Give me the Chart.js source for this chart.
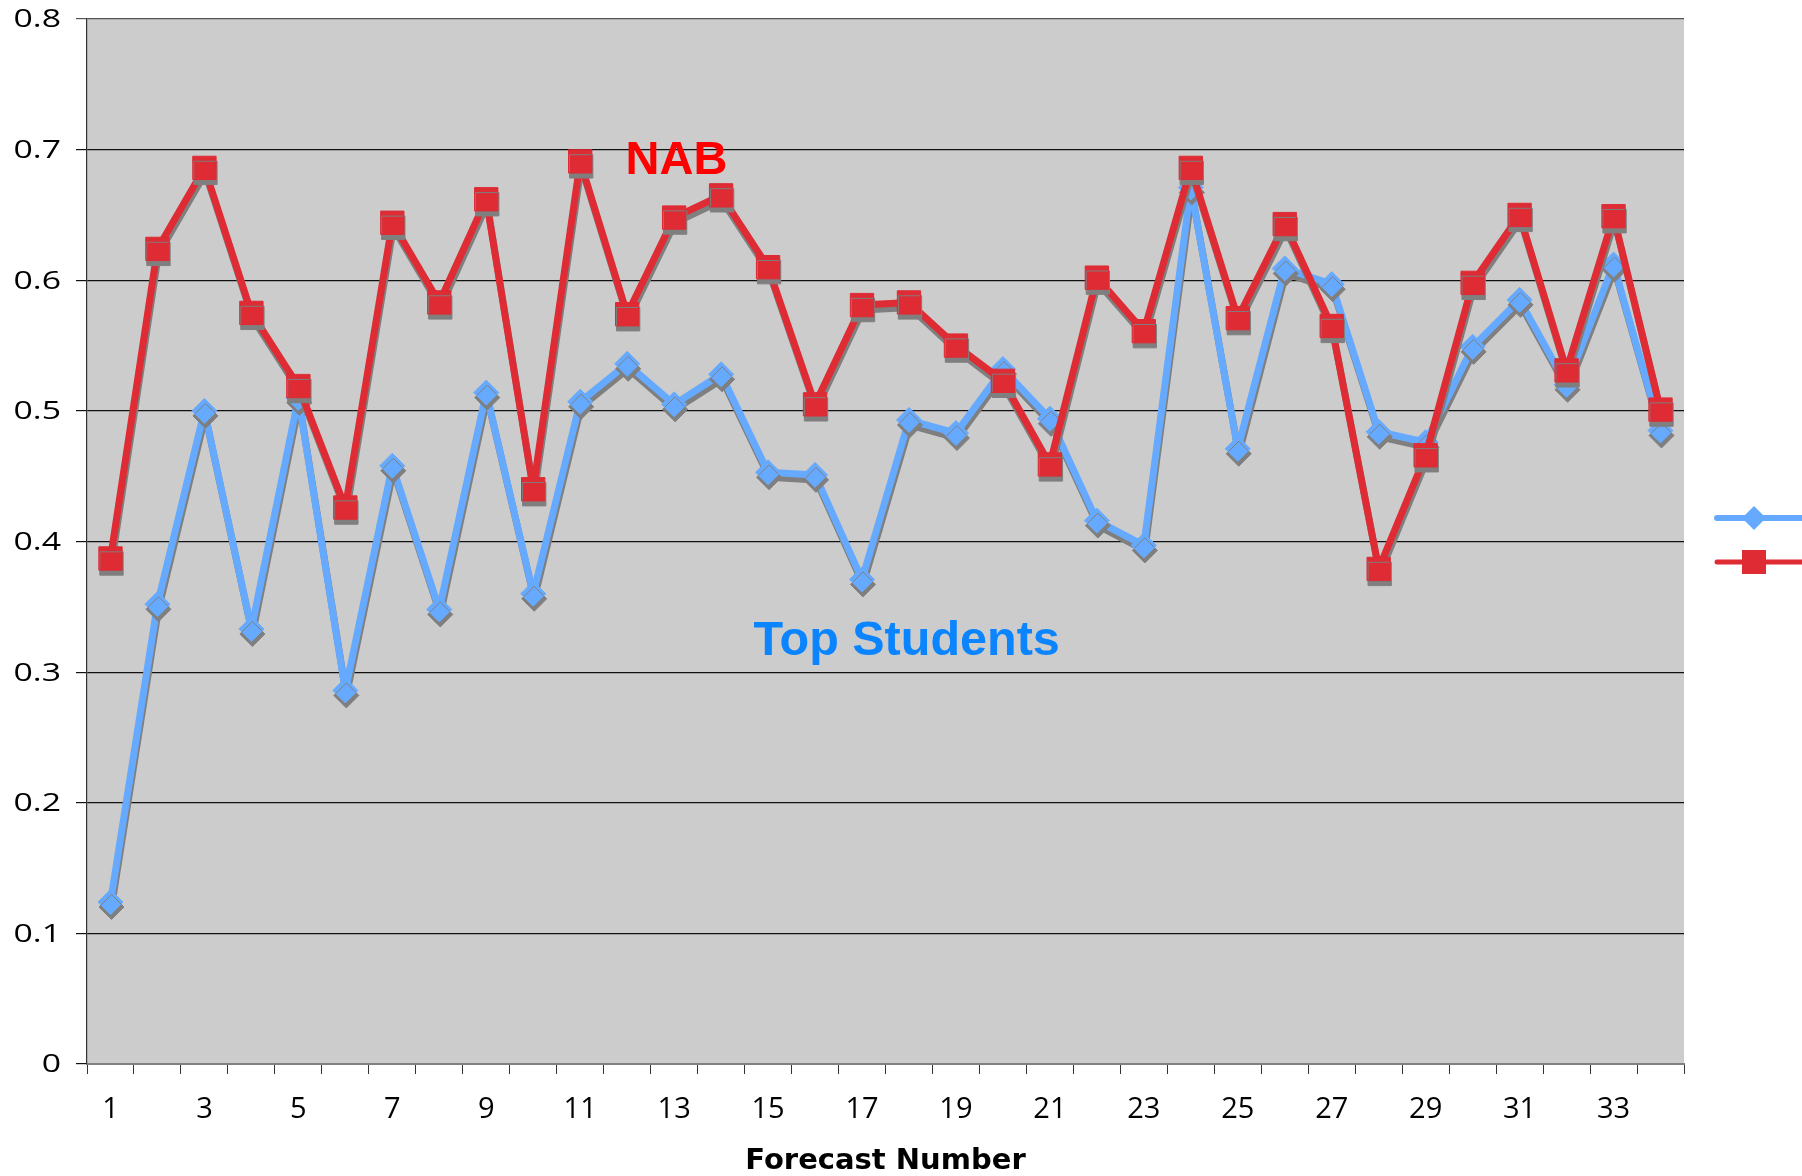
<!DOCTYPE html>
<html>
<head>
<meta charset="utf-8">
<script src="https://cdn.jsdelivr.net/npm/chart.js@4.4.1/dist/chart.umd.min.js"></script>
<style>
  html, body { margin: 0; padding: 0; background: #ffffff; }
  #wrap { width: 1802px; height: 1176px; }
</style>
</head>
<body>
<div id="wrap"><canvas id="mycanvas" width="1802" height="1176"></canvas></div>
<script>
var forecastNumbers = ['1','2','3','4','5','6','7','8','9','10','11','12','13','14','15','16','17',
                       '18','19','20','21','22','23','24','25','26','27','28','29','30','31','32','33','34'];
var shownTicks = ['1','3','5','7','9','11','13','15','17','19','21','23','25','27','29','31','33'];
var yTicks = [0, 0.1, 0.2, 0.3, 0.4, 0.5, 0.6, 0.7, 0.8];

var topStudents = [0.124, 0.352, 0.500, 0.333, 0.510, 0.286, 0.458, 0.348, 0.514, 0.360, 0.507, 0.536,
                   0.505, 0.528, 0.453, 0.451, 0.371, 0.493, 0.483, 0.532, 0.494, 0.416, 0.397, 0.671,
                   0.471, 0.609, 0.597, 0.484, 0.476, 0.549, 0.585, 0.520, 0.612, 0.485];
var nab = [0.387, 0.624, 0.686, 0.575, 0.519, 0.426, 0.644, 0.583, 0.662, 0.440, 0.691, 0.574,
           0.648, 0.665, 0.610, 0.505, 0.581, 0.583, 0.550, 0.523, 0.459, 0.602, 0.561, 0.686,
           0.571, 0.643, 0.565, 0.379, 0.466, 0.598, 0.650, 0.531, 0.649, 0.501];

var BLUE = '#66aaff';
var RED = '#de2b34';

// grey plot area behind the grid
var plotBackground = {
	id: 'plotBackground',
	beforeDraw: function(chart){
		var a = chart.chartArea, ctx = chart.ctx;
		ctx.save();
		ctx.fillStyle = '#cccccc';
		ctx.fillRect(a.left, a.top, a.right - a.left, a.bottom - a.top);
		ctx.restore();
	}
};

// flat grey shadow under lines and markers
var dropShadow = {
	id: 'dropShadow',
	beforeDatasetsDraw: function(chart){
		var ctx = chart.ctx;
		ctx.save();
		ctx.shadowColor = '#7f7f7f';
		ctx.shadowOffsetX = 1;
		ctx.shadowOffsetY = 5;
		ctx.shadowBlur = 0;
	},
	afterDatasetsDraw: function(chart){
		chart.ctx.restore();
	}
};

// value labels on the y axis, drawn a bit wider than the font
var yLabels = {
	id: 'yLabels',
	afterDraw: function(chart){
		var ys = chart.scales.y, ctx = chart.ctx;
		ctx.save();
		ctx.font = '26px "Open Sans", sans-serif';
		ctx.fillStyle = '#000000';
		ctx.textAlign = 'right';
		ctx.textBaseline = 'middle';
		yTicks.forEach(function(v){
			ctx.save();
			ctx.translate(61, ys.getPixelForValue(v) + 1);
			ctx.scale(1.3, 1);
			ctx.fillText(String(v), 0, 0);
			ctx.restore();
		});
		ctx.restore();
	}
};

// series names written on the plot + legend keys at the right edge
var seriesNotes = {
	id: 'seriesNotes',
	afterDraw: function(chart){
		var ctx = chart.ctx;
		var xs = chart.scales.x, ys = chart.scales.y;
		ctx.save();
		ctx.font = 'bold 47px "Liberation Sans", Arial, sans-serif';
		ctx.textAlign = 'center';
		ctx.textBaseline = 'alphabetic';
		ctx.fillStyle = '#ff0000';
		ctx.fillText('NAB', xs.getPixelForValue(12.05), ys.getPixelForValue(0.681));
		ctx.font = 'bold 48.5px "Liberation Sans", Arial, sans-serif';
		ctx.fillStyle = '#0a84ff';
		ctx.fillText('Top Students', xs.getPixelForValue(16.95), ys.getPixelForValue(0.313));

		// legend keys
		ctx.lineCap = 'round';
		ctx.lineWidth = 6;
		ctx.strokeStyle = BLUE;
		ctx.beginPath(); ctx.moveTo(1717, 518); ctx.lineTo(1810, 518); ctx.stroke();
		ctx.fillStyle = BLUE;
		ctx.beginPath();
		ctx.moveTo(1754 - 12, 518); ctx.lineTo(1754, 518 - 12);
		ctx.lineTo(1754 + 12, 518); ctx.lineTo(1754, 518 + 12);
		ctx.closePath(); ctx.fill();
		ctx.lineWidth = 5;
		ctx.strokeStyle = RED;
		ctx.beginPath(); ctx.moveTo(1717, 562); ctx.lineTo(1810, 562); ctx.stroke();
		ctx.fillStyle = RED;
		ctx.fillRect(1754 - 12, 562 - 12, 24, 24);
		ctx.restore();
	}
};

var chartdata = {
	labels : forecastNumbers,
	datasets : [
		{
			label : 'Top Students',
			data : topStudents,
			borderColor : BLUE,
			backgroundColor : BLUE,
			borderWidth : 7,
			borderJoinStyle : 'round',
			pointStyle : 'rectRot',
			pointRadius : 12.5,
			pointBorderWidth : 1,
			pointBorderColor : BLUE,
			pointBackgroundColor : BLUE,
			order : 1
		},
		{
			label : 'NAB',
			data : nab,
			borderColor : RED,
			backgroundColor : RED,
			borderWidth : 7,
			borderJoinStyle : 'round',
			pointStyle : 'rect',
			pointRadius : 16.5,
			pointBorderWidth : 1,
			pointBorderColor : RED,
			pointBackgroundColor : RED,
			order : 0
		}
	]
};

var ctx = document.getElementById('mycanvas');
var lineGraph = new Chart(ctx, {
	type : 'line',
	data : chartdata,
	plugins : [plotBackground, dropShadow, yLabels, seriesNotes],
	options : {
		responsive : false,
		animation : false,
		layout : { padding : { top : 19, right : 118, left : 0, bottom : 0 } },
		plugins : {
			legend : { display : false },
			tooltip : { enabled : false }
		},
		scales : {
			x : {
				offset : true,
				afterFit : function(scale){ scale.height = 112; },
				grid : {
					offset : true,
					drawOnChartArea : false,
					drawTicks : true,
					tickLength : 10,
					color : '#333333'
				},
				border : { color : '#808080', width : 2 },
				ticks : {
					autoSkip : false,
					maxRotation : 0,
					padding : 18,
					color : '#000000',
					font : { family : '"Open Sans", sans-serif', size : 29 },
					callback : function(val, i){
						var lab = forecastNumbers[i];
						return shownTicks.indexOf(lab) >= 0 ? lab : '';
					}
				},
				title : {
					display : true,
					text : 'Forecast Number',
					color : '#000000',
					font : { family : '"DejaVu Sans", sans-serif', size : 29, weight : 'bold' },
					padding : { top : 0, bottom : -3 }
				}
			},
			y : {
				min : 0,
				max : 0.8,
				afterFit : function(scale){ scale.width = 87; },
				grid : {
					tickLength : 11,
					lineWidth : 1.2,
					color : function(c){ return c.tick && c.tick.value >= 0.79 ? '#555555' : '#111111'; }
				},
				border : { color : '#333333', width : 1.2 },
				ticks : {
					stepSize : 0.1,
					display : false
				}
			}
		}
	}
});
</script>
</body>
</html>
